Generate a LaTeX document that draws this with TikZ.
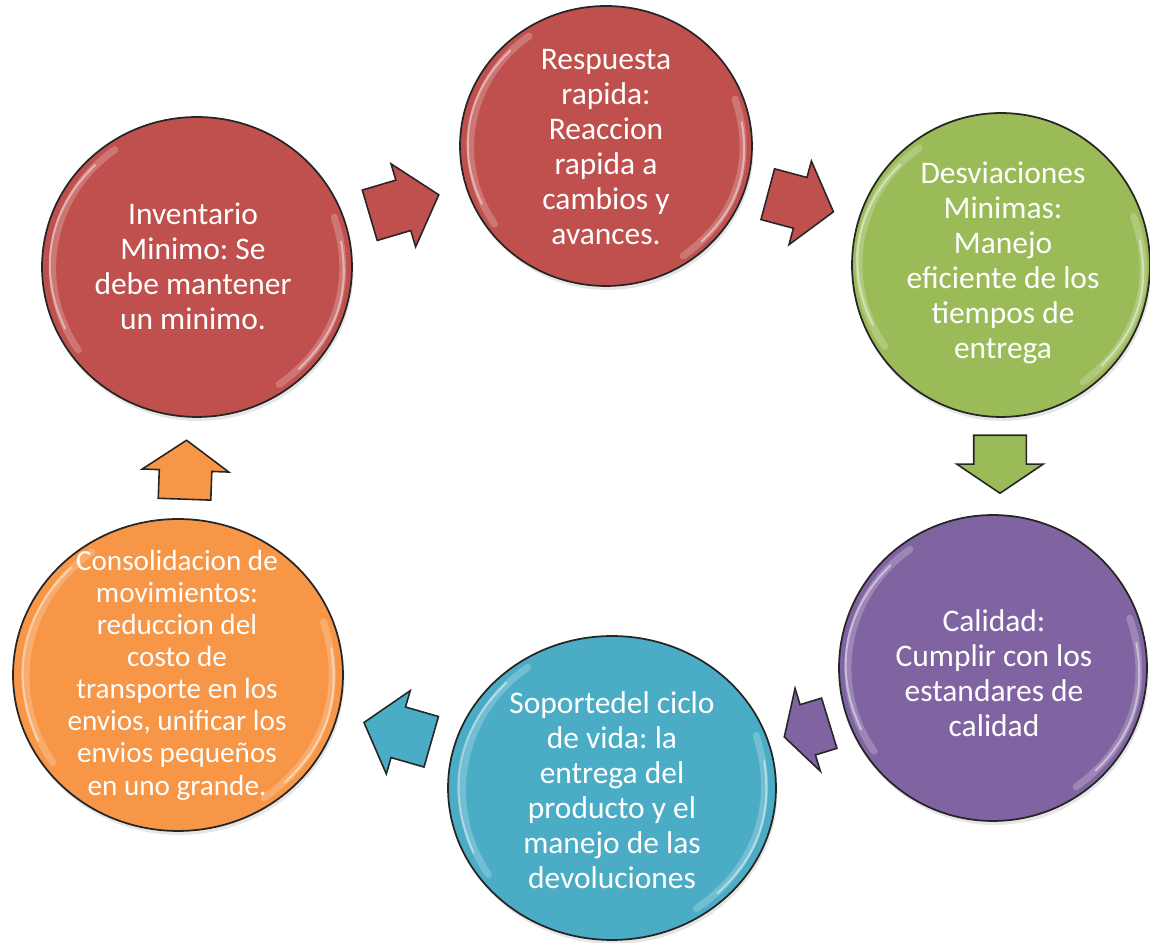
\documentclass[tikz,border=0pt]{standalone}
\usepackage{fontspec}
\setmainfont{Carlito}
\frenchspacing
\usetikzlibrary{shapes.geometric,shapes.arrows,shadows,calc}

\definecolor{redc}{HTML}{C0504D}
\definecolor{greenc}{HTML}{9BBB59}
\definecolor{purplec}{HTML}{8064A2}
\definecolor{bluec}{HTML}{4BACC6}
\definecolor{orangec}{HTML}{F79646}

\tikzset{
  bubble/.style={ellipse, draw=black!85, line width=1pt, fill=#1, inner sep=0pt,
    drop shadow={opacity=0.2, shadow xshift=0.03cm, shadow yshift=-0.08cm}},
  txt/.style={text=white, align=center, font=\fontsize{17.9}{19.9}\selectfont},
  blockarr/.style={single arrow, draw=black!85, line width=0.9pt, fill=#1,
    inner xsep=0pt, inner ysep=0.51cm, minimum width=0pt,
    single arrow head extend=0.34cm, anchor=tail},
  gloss/.style={white, opacity=0.22, line width=4pt, line cap=round},
  glossin/.style={white, opacity=0.45, line width=1.2pt, line cap=round}
}

\begin{document}
\begin{tikzpicture}[x=0.02cm, y=0.02cm]
    \useasboundingbox (0,0) rectangle (1150,943);

    % circles
    \node[bubble=redc, minimum width=6.2cm, minimum height=6cm] (inv) at (197,676) {};
    \node[bubble=redc, minimum width=5.84cm, minimum height=5.6cm] (resp) at (606,797) {};
    \node[bubble=greenc, minimum width=5.96cm, minimum height=6.08cm] (desv) at (1001,678) {};
    \node[bubble=purplec, minimum width=6.16cm, minimum height=6.12cm] (cal) at (993,275) {};
    \node[bubble=bluec, minimum width=6.56cm, minimum height=6.08cm] (sop) at (612,155) {};
    \node[bubble=orangec, minimum width=6.6cm, minimum height=6.24cm] (cons) at (178,268) {};

    % highlights
    \foreach \n in {inv,resp,desv,cal,sop,cons}{
        \draw[gloss] ($(\n.center)!.94!(\n.125)$) to[bend right=45] ($(\n.center)!.94!(\n.215)$);
        \draw[glossin] ($(\n.center)!.94!(\n.135)$) to[bend right=36] ($(\n.center)!.94!(\n.205)$);
        \draw[gloss] ($(\n.center)!.94!(\n.305)$) to[bend right=37] ($(\n.center)!.94!(\n.20)$);
        \draw[glossin] ($(\n.center)!.94!(\n.315)$) to[bend right=28] ($(\n.center)!.94!(\n.10)$);
    }

    % texts
    \node[txt] (inv-t) at (193,677) {Inventario\\Minimo: Se\\debe mantener\\un minimo.};
    \node[txt] (resp-t) at (606,796) {Respuesta\\rapida:\\Reaccion\\rapida a\\cambios y\\avances.};
    \node[txt] (desv-t) at (1003,680) {Desviaciones\\Minimas:\\Manejo\\eficiente de los\\tiempos de\\entrega};
    \node[txt] (cal-t) at (994,270) {Calidad:\\Cumplir con los\\estandares de\\calidad};
    \node[txt] (sop-t) at (612,153) {Soportedel ciclo\\de vida: la\\entrega del\\producto y el\\manejo de las\\devoluciones};
    \node[txt, font=\fontsize{16.6}{18.3}\selectfont] (cons-t) at (177,268)
        {Consolidacion de\\movimientos:\\reduccion del\\costo de\\transporte en los\\envios, unificar los\\envios pequeños\\en uno grande.};

    % arrows
    \node[blockarr=redc, rotate=16.5, minimum height=1.44cm, single arrow tip angle=99] (a1) at (369,727.5) {};
    \node[blockarr=redc, rotate=-15, minimum height=1.36cm, single arrow tip angle=103] (a2) at (767,749) {};
    \node[blockarr=greenc, rotate=-90, minimum height=1.16cm, single arrow tip angle=112] (a3) at (1000,508.5) {};
    \node[blockarr=purplec, rotate=197, minimum height=0.94cm, single arrow tip angle=121] (a4) at (830,220) {};
    \node[blockarr=bluec, rotate=164, minimum height=1.4cm, single arrow tip angle=101] (a5) at (432,201) {};
    \node[blockarr=orangec, rotate=88, minimum height=1.18cm, single arrow tip angle=110] (a6) at (184.5,443) {};
\end{tikzpicture}
\end{document}
